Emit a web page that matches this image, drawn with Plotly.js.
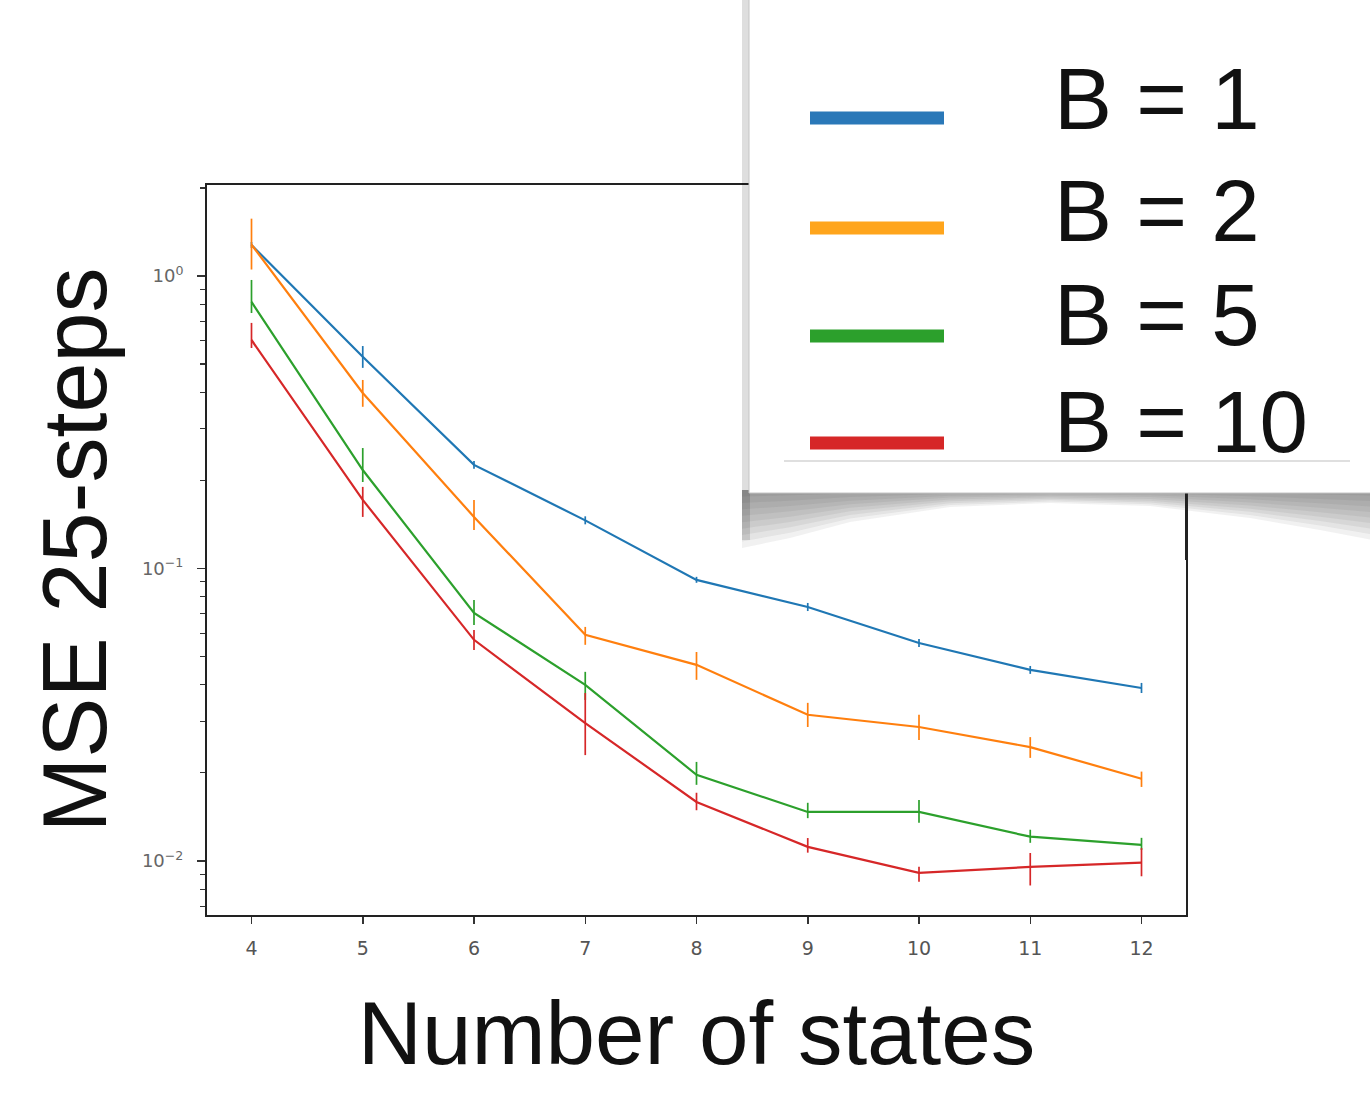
<!DOCTYPE html>
<html>
<head>
<meta charset="utf-8">
<script src="https://cdn.plot.ly/plotly-3.0.1.min.js"></script>
<style>html,body{margin:0;padding:0;background:#fff;}#chart{width:1370px;height:1113px;}</style>
</head>
<body>
<div id="chart"></div>
<script>
// ---- data ----
const states = [4, 5, 6, 7, 8, 9, 10, 11, 12];
const seriesNames = ["B = 1", "B = 2", "B = 5", "B = 10"];
const seriesColors = ["#1f77b4", "#ff7f0e", "#2ca02c", "#d62728"];
const legendColors = ["#2a78b8", "#ffa51c", "#2ca02c", "#d62728"];

const mseB1 = [1.276, 0.529, 0.226, 0.146, 0.0914, 0.0738, 0.0556, 0.0450, 0.0390];
const mseB2 = [1.28, 0.398, 0.150, 0.0593, 0.0468, 0.0316, 0.0287, 0.0245, 0.0191];
const mseB5 = [0.815, 0.217, 0.0705, 0.0400, 0.0197, 0.0147, 0.0147, 0.0121, 0.01134];
const mseB10 = [0.604, 0.1715, 0.0570, 0.0296, 0.0159, 0.01117, 0.0091, 0.00954, 0.00986];

const errUpB1 = [0.031, 0.047, 0.0072, 0.0047, 0.0022, 0.0024, 0.0018, 0.0014, 0.0016];
const errDnB1 = [0.029, 0.044, 0.0070, 0.0045, 0.0021, 0.0023, 0.0017, 0.0014, 0.0015];
const errUpB2 = [0.29, 0.043, 0.0215, 0.0038, 0.0050, 0.0031, 0.0029, 0.0020, 0.0011];
const errDnB2 = [0.228, 0.041, 0.0146, 0.0045, 0.0052, 0.0029, 0.0028, 0.0020, 0.0012];
const errUpB5 = [0.154, 0.041, 0.0075, 0.0043, 0.0021, 0.0011, 0.00145, 0.00068, 0.00065];
const errDnB5 = [0.068, 0.0195, 0.0064, 0.0045, 0.0015, 0.0007, 0.0012, 0.00057, 0.00044];
const errUpB10 = [0.087, 0.0185, 0.0046, 0.0079, 0.0012, 0.0008, 0.00044, 0.0011, 0.0012];
const errDnB10 = [0.037, 0.0215, 0.0044, 0.0066, 0.0010, 0.0005, 0.00062, 0.0013, 0.0010];

const yTickVals = [1, 0.1, 0.01];
const yTickText = ["10<sup>0</sup>", "10<sup>\u22121</sup>", "10<sup>\u22122</sup>"];
const xTitle = "Number of states";
const yTitle = "MSE 25-steps";

// ---- traces ----
const ySeries = [mseB1, mseB2, mseB5, mseB10];
const errUp = [errUpB1, errUpB2, errUpB5, errUpB10];
const errDn = [errDnB1, errDnB2, errDnB5, errDnB10];

const traces = ySeries.map((ys, i) => ({
  type: "scatter",
  mode: "lines",
  name: seriesNames[i],
  x: states,
  y: ys,
  line: {color: seriesColors[i], width: 2.2},
  error_y: {type: "data", symmetric: false, array: errUp[i], arrayminus: errDn[i],
            color: seriesColors[i], thickness: 1.7, width: 0},
  showlegend: false
}));

// ---- layout helpers (pixel -> paper) ----
const L = 207, R = 1186, T = 185, B = 915;
const px = v => (v - L) / (R - L);
const py = v => (B - v) / (B - T);

const shapes = [];
const annotations = [];

// legend shadow: curled soft shadow, layered
const shadowCurve = [[742,548],[790,538],[850,522],[950,507],[1050,503],[1150,506],[1250,518],[1320,530],[1372,540]];
const nLayers = 9;
for (let k = nLayers; k >= 1; k--) {
  const f = k / nLayers;
  const pts = [[742,490]].concat(shadowCurve.map(p => [p[0], 490 + (p[1] - 490) * f])).concat([[1372,490]]);
  const d = pts.map((p, j) => (j === 0 ? "M" : "L") + px(p[0]) + "," + py(p[1])).join(" ") + " Z";
  shapes.push({type: "path", xref: "paper", yref: "paper", path: d,
               fillcolor: "rgba(60,60,60,0.07)", line: {width: 0}, layer: "above"});
}
// left edge shadow band
shapes.push({type: "rect", xref: "paper", yref: "paper", x0: px(742), x1: px(750), y0: py(540), y1: py(0),
             fillcolor: "rgba(0,0,0,0.13)", line: {width: 0}, layer: "above"});
// right spine visible through shadow
shapes.push({type: "line", xref: "paper", yref: "paper", x0: px(R), x1: px(R), y0: py(493), y1: py(560),
             line: {color: "#222", width: 2}, layer: "above"});
// legend box
shapes.push({type: "rect", xref: "paper", yref: "paper", x0: px(749), x1: px(1372), y0: py(493), y1: py(-2),
             fillcolor: "#ffffff", line: {color: "#c4c4c4", width: 1}, layer: "above"});
// separator line
shapes.push({type: "line", xref: "paper", yref: "paper", x0: px(784), x1: px(1350), y0: py(461), y1: py(461),
             line: {color: "#d4d4d4", width: 1.5}, layer: "above"});

const legLineY = [118, 228, 336, 443];
const legTextY = [99, 210, 314, 421];
seriesNames.forEach((nm, i) => {
  shapes.push({type: "line", xref: "paper", yref: "paper", x0: px(810), x1: px(944),
               y0: py(legLineY[i]), y1: py(legLineY[i]),
               line: {color: legendColors[i], width: 13}, layer: "above"});
  annotations.push({xref: "paper", yref: "paper", x: px(1052), y: py(legTextY[i]),
                    xanchor: "left", yanchor: "middle", showarrow: false, text: nm,
                    font: {family: "Liberation Sans, Arial, sans-serif", size: 87, color: "#111"}});
});

const layout = {
  width: 1370, height: 1113,
  margin: {l: L, r: 1370 - R, t: T, b: 1113 - B},
  paper_bgcolor: "#ffffff", plot_bgcolor: "#ffffff",
  showlegend: false,
  xaxis: {
    range: [3.6, 12.4],
    tickmode: "array", tickvals: states, ticktext: states.map(String),
    ticks: "outside", ticklen: 7, tickwidth: 1.5, tickcolor: "#333",
    ticklabelstandoff: 8,
    showline: true, linecolor: "#222", linewidth: 2, mirror: true,
    showgrid: false, zeroline: false,
    tickfont: {family: "DejaVu Sans, sans-serif", size: 19, color: "#555"},
    title: {text: xTitle, standoff: 44,
            font: {family: "Liberation Sans, Arial, sans-serif", size: 89, color: "#111"}}
  },
  yaxis: {
    type: "log",
    range: [-2.185, 0.311],
    tickmode: "array", tickvals: yTickVals, ticktext: yTickText,
    ticks: "outside", ticklen: 8, tickwidth: 1.5, tickcolor: "#333",
    ticklabelstandoff: 10,
    minor: {dtick: "D1", ticks: "outside", ticklen: 5, tickwidth: 1.2, tickcolor: "#333", showgrid: false},
    showline: true, linecolor: "#222", linewidth: 2, mirror: true,
    showgrid: false, zeroline: false,
    tickfont: {family: "DejaVu Sans, sans-serif", size: 18, color: "#666"},
    title: {text: yTitle, standoff: 5,
            font: {family: "Liberation Sans, Arial, sans-serif", size: 90, color: "#111"}}
  },
  shapes: shapes,
  annotations: annotations
};

Plotly.newPlot("chart", traces, layout, {displayModeBar: false, staticPlot: true});
</script>
</body>
</html>
